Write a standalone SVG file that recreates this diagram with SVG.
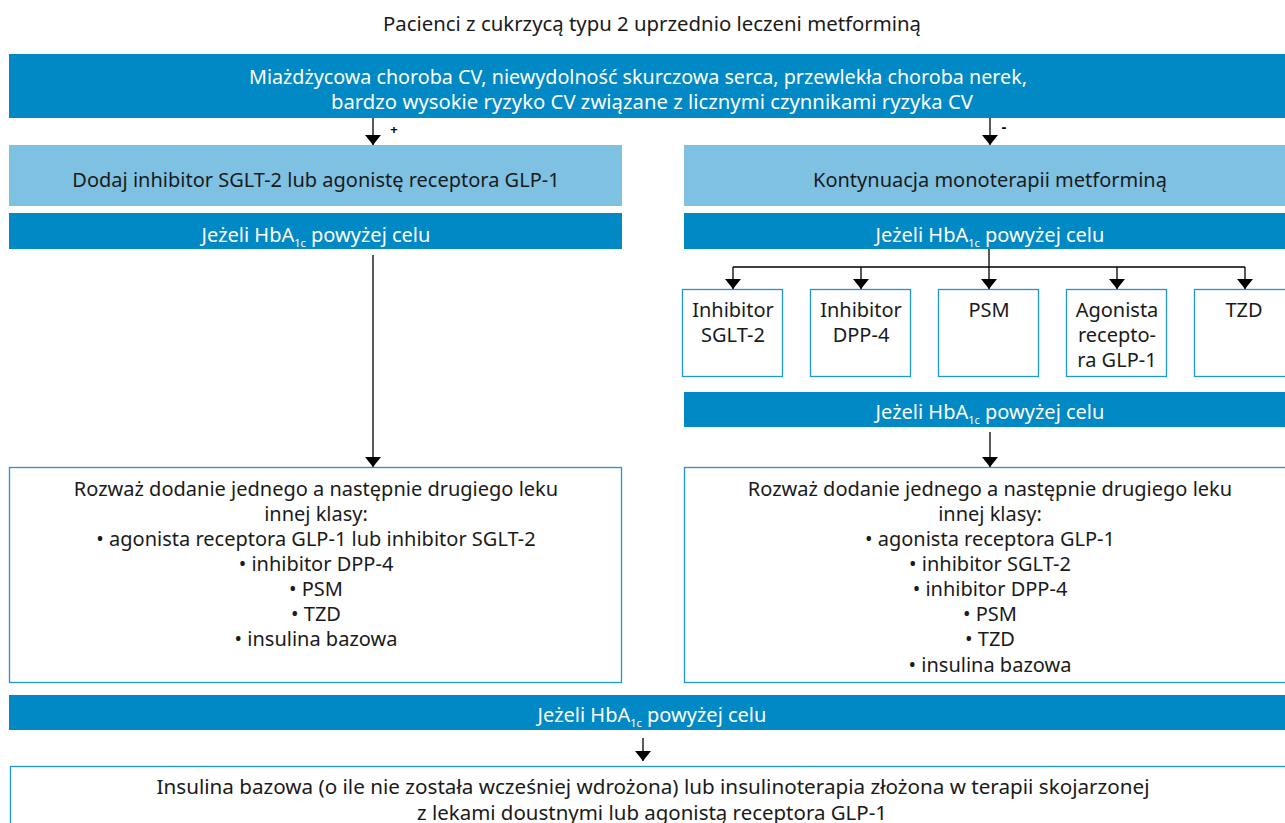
<svg xmlns="http://www.w3.org/2000/svg" width="1285" height="823" viewBox="0 0 1285 823">
<style>
text{font-family:"Noto Sans","Open Sans",sans-serif;text-anchor:middle;}
.t{font-size:20px;fill:#1a1a1a;}
.w{font-size:20px;fill:#ffffff;}
.f{font-size:19px;fill:#1a1a1a;}
.sub{font-size:11px;}
.dark{fill:#0089c5;}
.light{fill:#7fc1e3;}
.box{fill:#ffffff;stroke:#1e96d2;stroke-width:1.3;}
.c{stroke:#000;stroke-width:1.3;fill:none;}
</style>
<defs>
<marker id="ah" viewBox="0 -8 10 16" refX="10" refY="0" markerWidth="10" markerHeight="16" markerUnits="userSpaceOnUse" orient="auto">
<path d="M0,-8 L10,0 L0,8 z" fill="#000"/>
</marker>
</defs>
<rect width="1285" height="823" fill="#fff"/>

<g id="title"><text class="t" x="652" y="31" textLength="538" lengthAdjust="spacingAndGlyphs">Pacienci z cukrzycą typu 2 uprzednio leczeni metforminą</text></g>

<g id="n_top">
<rect class="dark" x="9" y="54" width="1290" height="64"/>
<text class="w" x="638" y="84" textLength="778" lengthAdjust="spacingAndGlyphs">Miażdżycowa choroba CV, niewydolność skurczowa serca, przewlekła choroba nerek,</text>
<text class="w" x="652" y="109" textLength="642" lengthAdjust="spacingAndGlyphs">bardzo wysokie ryzyko CV związane z licznymi czynnikami ryzyka CV</text>
</g>

<g id="n_add">
<rect class="light" x="9" y="145" width="613" height="61"/>
<text class="t" x="316" y="187">Dodaj inhibitor SGLT-2 lub agonistę receptora GLP-1</text>
</g>
<g id="n_cont">
<rect class="light" x="684" y="145" width="615" height="61"/>
<text class="t" x="990" y="187">Kontynuacja monoterapii metforminą</text>
</g>

<g id="n_hba_l">
<rect class="dark" x="9" y="213" width="613" height="36"/>
<text class="w" x="316" y="242">Jeżeli HbA<tspan class="sub" dy="5">1c</tspan><tspan dy="-5"> powyżej celu</tspan></text>
</g>
<g id="n_hba_r">
<rect class="dark" x="684" y="213" width="615" height="36"/>
<text class="w" x="990" y="242">Jeżeli HbA<tspan class="sub" dy="5">1c</tspan><tspan dy="-5"> powyżej celu</tspan></text>
</g>

<g id="n_sglt"><rect class="box" x="682.5" y="289.5" width="100" height="87"/>
<text class="t" x="733" y="317">Inhibitor</text><text class="t" x="733" y="342">SGLT-2</text></g>
<g id="n_dpp"><rect class="box" x="810.5" y="289.5" width="100" height="87"/>
<text class="t" x="861" y="317">Inhibitor</text><text class="t" x="861" y="342">DPP-4</text></g>
<g id="n_psm"><rect class="box" x="938.5" y="289.5" width="100" height="87"/>
<text class="t" x="989" y="317">PSM</text></g>
<g id="n_glp"><rect class="box" x="1066.5" y="289.5" width="100" height="87"/>
<text class="t" x="1117" y="317">Agonista</text><text class="t" x="1117" y="342">recepto-</text><text class="t" x="1117" y="367">ra GLP-1</text></g>
<g id="n_tzd"><rect class="box" x="1194.5" y="289.5" width="100" height="87"/>
<text class="t" x="1244" y="317">TZD</text></g>

<g id="n_hba_r2">
<rect class="dark" x="684" y="392" width="615" height="35"/>
<text class="w" x="990" y="419">Jeżeli HbA<tspan class="sub" dy="5">1c</tspan><tspan dy="-5"> powyżej celu</tspan></text>
</g>

<g id="n_left_opts">
<rect class="box" x="9.5" y="467.5" width="612" height="215"/>
<text class="t" x="316" y="496">Rozważ dodanie jednego a następnie drugiego leku</text>
<text class="t" x="316" y="521">innej klasy:</text>
<text class="t" x="316" y="546">• agonista receptora GLP-1 lub inhibitor SGLT-2</text>
<text class="t" x="316" y="571">• inhibitor DPP-4</text>
<text class="t" x="316" y="596">• PSM</text>
<text class="t" x="316" y="621">• TZD</text>
<text class="t" x="316" y="646">• insulina bazowa</text>
</g>

<g id="n_right_opts">
<rect class="box" x="684.5" y="467.5" width="612" height="215"/>
<text class="t" x="990" y="496">Rozważ dodanie jednego a następnie drugiego leku</text>
<text class="t" x="990" y="521">innej klasy:</text>
<text class="t" x="990" y="546">• agonista receptora GLP-1</text>
<text class="t" x="990" y="571">• inhibitor SGLT-2</text>
<text class="t" x="990" y="596">• inhibitor DPP-4</text>
<text class="t" x="990" y="621">• PSM</text>
<text class="t" x="990" y="646">• TZD</text>
<text class="t" x="990" y="672">• insulina bazowa</text>
</g>

<g id="n_hba_b">
<rect class="dark" x="9" y="695" width="1290" height="35"/>
<text class="w" x="652" y="722">Jeżeli HbA<tspan class="sub" dy="5">1c</tspan><tspan dy="-5"> powyżej celu</tspan></text>
</g>

<g id="n_final">
<rect class="box" x="10.5" y="766.5" width="1290" height="80"/>
<text class="f" x="653" y="794" textLength="993" lengthAdjust="spacingAndGlyphs">Insulina bazowa (o ile nie została wcześniej wdrożona) lub insulinoterapia złożona w terapii skojarzonej</text>
<text class="f" x="652" y="820" textLength="470" lengthAdjust="spacingAndGlyphs">z lekami doustnymi lub agonistą receptora GLP-1</text>
</g>

<g id="connectors">
<path class="c" d="M373,118 V145" marker-end="url(#ah)"/>
<text x="394" y="134" style="font-size:13px;font-weight:bold;fill:#000">+</text>
<path class="c" d="M990,118 V145" marker-end="url(#ah)"/>
<text x="1004" y="132" style="font-size:14px;font-weight:bold;fill:#000">-</text>
<path class="c" d="M373,255 V467" marker-end="url(#ah)"/>
<path class="c" d="M989,249 V267 M733,267 H1245"/>
<path class="c" d="M733,267 V289" marker-end="url(#ah)"/>
<path class="c" d="M861,267 V289" marker-end="url(#ah)"/>
<path class="c" d="M989,267 V289" marker-end="url(#ah)"/>
<path class="c" d="M1117,267 V289" marker-end="url(#ah)"/>
<path class="c" d="M1245,267 V289" marker-end="url(#ah)"/>
<path class="c" d="M990,432 V467" marker-end="url(#ah)"/>
<path class="c" d="M643,738 V761" marker-end="url(#ah)"/>
</g>
</svg>
